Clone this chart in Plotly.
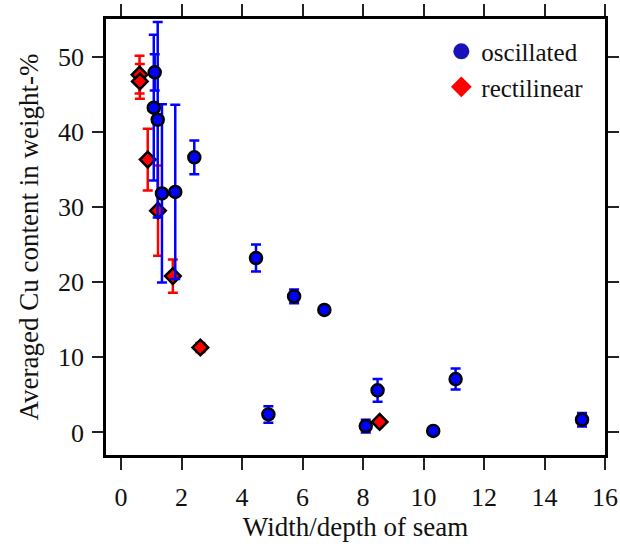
import plotly.graph_objects as go

# oscillated (blue circles)
osc_x = [1.11, 1.08, 1.21, 1.35, 1.79, 2.42, 4.46, 4.87, 5.72, 6.72, 8.09, 8.48, 10.32, 11.06, 15.24]
osc_y = [47.9, 43.2, 41.6, 31.8, 32.0, 36.6, 23.2, 2.4, 18.1, 16.3, 0.85, 5.6, 0.2, 7.1, 1.7]
osc_err = [2.4, 9.7, 13.0, 11.85, 11.6, 2.25, 1.8, 1.1, 0.9, 0.3, 0.85, 1.5, 0.2, 1.4, 0.9]

# rectilinear (red diamonds)
rec_x = [0.61, 0.62, 0.88, 1.22, 1.71, 2.62, 8.55]
rec_y = [47.6, 46.7, 36.3, 29.5, 20.8, 11.3, 1.4]
rec_err = [2.5, 2.3, 4.1, 6.0, 2.2, 0.6, 0.3]

x_ticks = [0, 2, 4, 6, 8, 10, 12, 14, 16]
y_ticks = [0, 10, 20, 30, 40, 50]

FONT = "Liberation Serif"
TXT = "#111111"

fig = go.Figure()
fig.add_trace(go.Scatter(
    x=rec_x, y=rec_y, mode="markers", showlegend=False,
    marker=dict(symbol="diamond", size=12, color="#ff0000",
                line=dict(color="black", width=2.5)),
    error_y=dict(type="data", array=rec_err, visible=True,
                 color="#ff0000", thickness=2.5, width=5),
))
fig.add_trace(go.Scatter(
    x=osc_x, y=osc_y, mode="markers", showlegend=False,
    marker=dict(symbol="circle", size=12, color="#0000ff",
                line=dict(color="black", width=2.5)),
    error_y=dict(type="data", array=osc_err, visible=True,
                 color="#0000ff", thickness=2.5, width=5),
))
# legend-only entries
fig.add_trace(go.Scatter(
    x=[None], y=[None], mode="markers", name="oscillated",
    marker=dict(symbol="circle", size=16, color="#1a12b8", line=dict(width=0)),
))
fig.add_trace(go.Scatter(
    x=[None], y=[None], mode="markers", name="rectilinear",
    marker=dict(symbol="diamond", size=16, color="#ff0000", line=dict(width=0)),
))

fig.update_layout(
    width=620, height=544,
    margin=dict(l=106, r=15, t=19, b=89),
    paper_bgcolor="white", plot_bgcolor="white",
    font=dict(family=FONT, color=TXT, size=26),
    xaxis=dict(
        showline=True, linecolor="black", linewidth=2.8, mirror="ticks",
        ticks="outside", tickcolor="#222", tickwidth=1.5, ticklen=12,
        showgrid=False, zeroline=False, automargin=False,
        range=[-0.5, 16.0], tickvals=x_ticks, ticklabelstandoff=5,
        ticklabeloverflow="allow",
        tickfont=dict(family=FONT, size=26, color=TXT),
        title=dict(text="Width/depth of seam", font=dict(family=FONT, size=27, color=TXT), standoff=0),
    ),
    yaxis=dict(
        showline=True, linecolor="black", linewidth=2.8, mirror="ticks",
        ticks="outside", tickcolor="#222", tickwidth=1.5, ticklen=11,
        showgrid=False, zeroline=False, automargin=False,
        range=[-3.0, 55], tickvals=y_ticks, ticklabelstandoff=3,
        ticklabeloverflow="allow",
        tickfont=dict(family=FONT, size=26, color=TXT),
        title=dict(text="Averaged Cu content in weight-%", font=dict(family=FONT, size=27, color=TXT), standoff=12),
    ),
    legend=dict(
        x=0.672, y=0.978, xanchor="left", yanchor="top",
        bgcolor="rgba(0,0,0,0)", borderwidth=0,
        font=dict(family=FONT, size=25, color=TXT),
        tracegroupgap=0,
    ),
    showlegend=True,
)

fig.write_html("out.html")
